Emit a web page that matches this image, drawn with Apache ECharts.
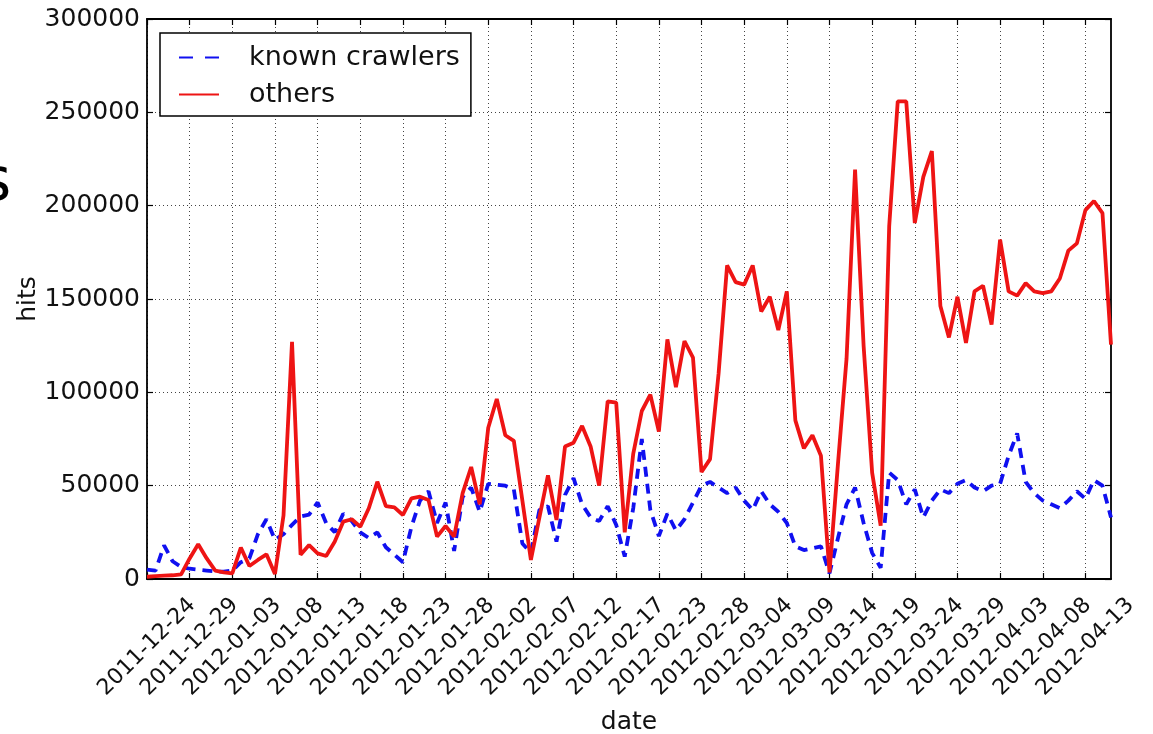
<!DOCTYPE html>
<html>
<head>
<meta charset="utf-8">
<script src="https://cdn.jsdelivr.net/npm/echarts@6/dist/echarts.min.js"></script>
<style>
html, body { margin: 0; padding: 0; background: #fff; }
#chart { width: 1153px; height: 734px; }
</style>
</head>
<body>
<div id="chart"></div>
<script>
// Daily hits from 2011-12-24 onwards; one day in February has no record.
const firstDay = '2011-12-24';
const dayCount = 114;
const missingDays = ['2012-02-20'];

// Hits per day from known crawler user agents
const knownCrawlers = [
  5000, 4500, 18000, 9500, 6500, 5500, 5000, 4500, 4000, 4000,
  4500, 9000, 11000, 24000, 32000, 21000, 24000, 29000, 33500, 34500,
  41000, 30000, 25000, 35000, 31000, 25000, 22000, 25000, 17000, 13000,
  9000, 28000, 42000, 47000, 30000, 41000, 15000, 44000, 49000, 36000,
  51000, 50500, 50000, 48000, 19000, 14000, 37000, 39000, 20000, 45000,
  54000, 40000, 33000, 31000, 39000, 29000, 12000, 38000, 75000, 37000,
  23000, 35000, 26000, 32000, 41000, 50000, 52000, 49000, 46000, 49000,
  42000, 37000, 47000, 40000, 36000, 30000, 17500, 15500, 16500, 17500,
  3000, 22000, 40000, 49000, 30000, 14000, 6000, 57000, 53000, 40000,
  48000, 33000, 42000, 48000, 46000, 51000, 53000, 49000, 47000, 50000,
  51000, 66000, 78000, 52000, 46000, 42000, 40000, 38000, 42000, 47000,
  43000, 53000, 50000, 33000
];

// Hits per day from all other clients
const others = [
  1200, 1500, 1800, 2000, 2500, 11000, 18600, 11000, 4500, 3500,
  3000, 16800, 7000, 10200, 13200, 2700, 34000, 127000, 13000, 18200,
  13700, 12300, 20000, 30700, 32000, 28000, 37900, 52100, 39100, 38400,
  34300, 43200, 44100, 42300, 22700, 28400, 22700, 46000, 60000, 40000,
  81000, 96400, 77000, 74000, 42000, 10200, 33000, 55500, 31600, 71000,
  73000, 82000, 71000, 50000, 95200, 94500, 25000, 67200, 90000, 98800,
  79000, 128400, 102800, 127500, 118600, 57300, 64200, 110000, 168000, 159000,
  157700, 168000, 143300, 151200, 133400, 154100, 85000, 70000, 77000, 66000,
  3500, 62000, 118000, 219300, 125000, 57000, 28500, 189000, 255900, 255900,
  190700, 215400, 229200, 146200, 129400, 151200, 126500, 154100, 157100, 136300,
  181800, 154100, 151800, 158500, 154100, 153100, 154100, 161000, 175900, 179800,
  197600, 202500, 196000, 125500
];

// Value axis range and step
const hitsRange = [0, 300000];
const hitsStep = 50000;
// A date label is written under every fifth day
const dateLabelEvery = 5;

function buildDates(start, count, skip) {
  const out = [];
  const d = new Date(start + 'T00:00:00Z');
  while (out.length < count) {
    const s = d.toISOString().slice(0, 10);
    if (!skip.includes(s)) out.push(s);
    d.setUTCDate(d.getUTCDate() + 1);
  }
  return out;
}
const dates = buildDates(firstDay, dayCount, missingDays);

const FONT = 'DejaVu Sans';
const INK = '#111';
const BLUE = '#1010f0';
const RED = '#ee1414';

const gridDots = { color: '#444', width: 1, type: [1, 3] };
const frameLine = { show: true, onZero: false, lineStyle: { color: '#000', width: 1.8 } };
const innerTicks = (interval) => ({
  show: true, inside: true, length: 6, interval: interval,
  lineStyle: { color: '#000', width: 1.2 }
});

const chart = echarts.init(document.getElementById('chart'), null, { renderer: 'canvas' });

chart.setOption({
  animation: false,
  backgroundColor: '#fff',
  textStyle: { fontFamily: FONT },
  grid: {
    left: 147, right: 42, top: 19, bottom: 155,
    containLabel: false,
    outerBoundsMode: 'none'
  },
  legend: {
    orient: 'vertical',
    left: 160,
    top: 33,
    padding: [11, 11, 8, 18],
    itemGap: 10,
    itemWidth: 40,
    itemHeight: 16,
    backgroundColor: '#fff',
    borderColor: '#000',
    borderWidth: 1.5,
    borderRadius: 0,
    itemStyle: { color: 'rgba(0,0,0,0)', borderWidth: 0, opacity: 0 },
    textStyle: { fontFamily: FONT, fontSize: 27, color: INK, padding: [0, 0, 0, 25] },
    data: [
      { name: 'known crawlers', lineStyle: { type: [14, 12] } },
      { name: 'others' }
    ]
  },
  xAxis: [
    {
      type: 'category',
      data: dates,
      boundaryGap: false,
      position: 'bottom',
      name: 'date',
      nameLocation: 'middle',
      nameGap: 131,
      nameMoveOverlap: false,
      nameTextStyle: { fontFamily: FONT, fontSize: 25, color: INK },
      axisLine: frameLine,
      axisTick: innerTicks(dateLabelEvery - 1),
      axisLabel: {
        interval: dateLabelEvery - 1,
        rotate: 45,
        align: 'center',
        verticalAlign: 'middle',
        margin: 68,
        fontFamily: FONT,
        fontSize: 22,
        color: INK,
        hideOverlap: false
      },
      splitLine: { show: true, interval: dateLabelEvery - 1, lineStyle: gridDots }
    },
    {
      type: 'category',
      data: dates,
      boundaryGap: false,
      position: 'top',
      axisLine: frameLine,
      axisTick: innerTicks(dateLabelEvery - 1),
      axisLabel: { show: false },
      splitLine: { show: false }
    }
  ],
  yAxis: [
    {
      type: 'value',
      min: hitsRange[0],
      max: hitsRange[1],
      interval: hitsStep,
      position: 'left',
      name: 'hits',
      nameLocation: 'middle',
      nameGap: 106,
      nameMoveOverlap: false,
      nameTextStyle: { fontFamily: FONT, fontSize: 25, color: INK },
      axisLine: frameLine,
      axisTick: innerTicks('auto'),
      axisLabel: {
        fontFamily: FONT, fontSize: 25, color: INK, margin: 7,
        formatter: (v) => String(v)
      },
      splitLine: { show: true, lineStyle: gridDots }
    },
    {
      type: 'value',
      min: hitsRange[0],
      max: hitsRange[1],
      interval: hitsStep,
      position: 'right',
      axisLine: frameLine,
      axisTick: innerTicks('auto'),
      axisLabel: { show: false },
      splitLine: { show: false }
    }
  ],
  graphic: [
    {
      type: 'text',
      left: -20,
      top: 154,
      style: { text: 's', font: '60px "DejaVu Sans"', fill: '#000' }
    }
  ],
  series: [
    {
      name: 'known crawlers',
      type: 'line',
      data: knownCrawlers,
      symbol: 'none',
      lineStyle: { color: BLUE, width: 3.8, type: [10, 7] },
      itemStyle: { color: BLUE }
    },
    {
      name: 'others',
      type: 'line',
      data: others,
      symbol: 'none',
      lineStyle: { color: RED, width: 3.8 },
      itemStyle: { color: RED }
    }
  ]
});
</script>
</body>
</html>
